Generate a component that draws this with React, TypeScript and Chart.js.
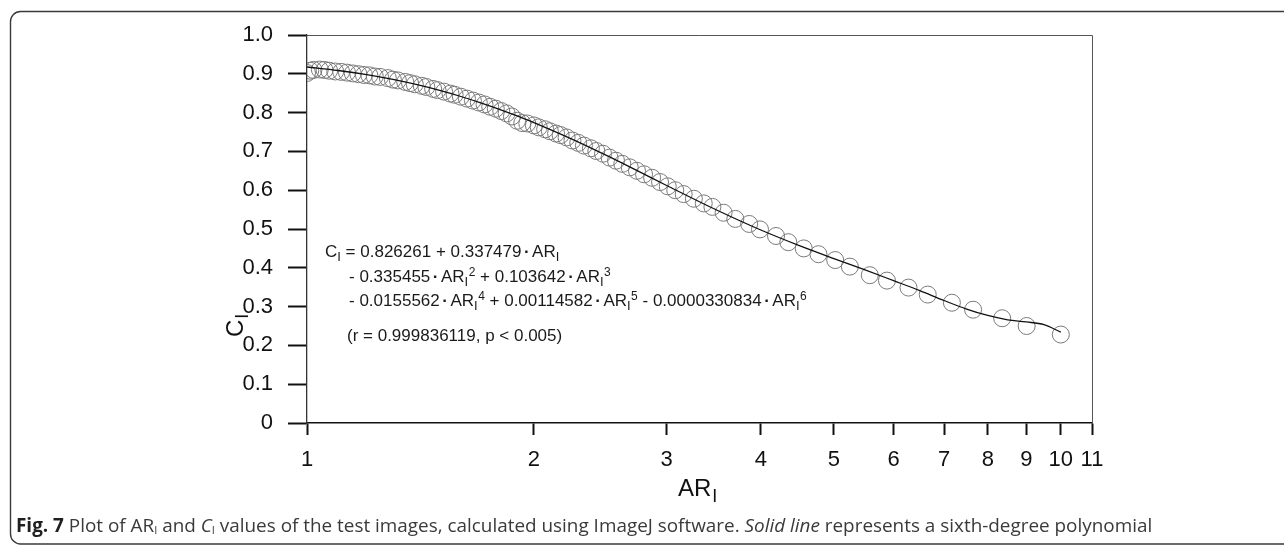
import React, { useEffect, useRef } from 'react';
import { Chart, registerables } from 'chart.js';

Chart.register(...registerables);

// Measured data points (AR_I, C_I)
const arValues = [
  1.0, 1.01, 1.02, 1.04, 1.055, 1.07, 1.09, 1.11, 1.13, 1.15, 1.17, 1.19, 1.21, 1.23, 1.25, 1.28, 1.3, 1.32,
  1.35, 1.37, 1.39, 1.42, 1.44, 1.47, 1.49, 1.52, 1.55, 1.57, 1.6, 1.63, 1.66, 1.69, 1.72, 1.75, 1.78, 1.81,
  1.84, 1.87, 1.9, 1.93, 1.96, 2.0, 2.03, 2.07, 2.1, 2.14, 2.17, 2.21, 2.25, 2.29, 2.33, 2.38, 2.42, 2.47,
  2.52, 2.57, 2.62, 2.68, 2.74, 2.8, 2.87, 2.94, 3.01, 3.08, 3.16, 3.26, 3.36, 3.45, 3.57, 3.7, 3.86, 3.99,
  4.19, 4.35, 4.56, 4.77, 5.02, 5.25, 5.58, 5.88, 6.28, 6.66, 7.17, 7.65, 8.36, 9.01, 10.0,
];
const ciValues = [
  0.902, 0.908, 0.91, 0.911, 0.91, 0.908, 0.906, 0.905, 0.903, 0.901, 0.899, 0.897, 0.896, 0.893, 0.892, 0.889,
  0.885, 0.883, 0.879, 0.876, 0.873, 0.869, 0.866, 0.861, 0.858, 0.854, 0.849, 0.846, 0.841, 0.836, 0.831, 0.826,
  0.821, 0.815, 0.81, 0.804, 0.798, 0.79, 0.779, 0.773, 0.772, 0.767, 0.762, 0.757, 0.752, 0.746, 0.742, 0.736,
  0.728, 0.722, 0.715, 0.708, 0.701, 0.694, 0.684, 0.676, 0.668, 0.659, 0.65, 0.641, 0.632, 0.621, 0.61, 0.6,
  0.59, 0.578, 0.566, 0.557, 0.542, 0.526, 0.513, 0.499, 0.482, 0.466, 0.45, 0.435, 0.42, 0.403, 0.381, 0.367,
  0.349, 0.331, 0.31, 0.292, 0.27, 0.25, 0.228,
];

// Fitted sixth-degree polynomial curve
const fitAR = [1, 1.1, 1.2, 1.3, 1.4, 1.5, 1.6, 1.7, 1.8, 1.9, 2, 2.25, 2.5, 2.75, 3, 3.5, 4, 4.5, 5, 5.5, 6, 6.5, 7, 7.5, 8, 8.5, 9, 9.5, 10];
const fitCI = [
  0.9175, 0.9085, 0.8978, 0.8854, 0.8718, 0.8571, 0.8415, 0.8252, 0.8085, 0.7914, 0.7742, 0.731, 0.6889, 0.6491,
  0.6122, 0.5483, 0.4974, 0.4571, 0.4237, 0.3946, 0.3669, 0.3412, 0.3157, 0.2936, 0.2771, 0.266, 0.2605, 0.2534, 0.2342,
];

const xTicks = [1, 2, 3, 4, 5, 6, 7, 8, 9, 10, 11];
const yTicks = [0, 0.1, 0.2, 0.3, 0.4, 0.5, 0.6, 0.7, 0.8, 0.9, 1.0];

type Seg = { t: string; s?: 'sub' | 'sup' | 'dot' };
const equationLines: Seg[][] = [
  [{ t: 'C' }, { t: 'I', s: 'sub' }, { t: ' = 0.826261 + 0.337479' }, { t: '·', s: 'dot' }, { t: 'AR' }, { t: 'I', s: 'sub' }],
  [
    { t: '- 0.335455' }, { t: '·', s: 'dot' }, { t: 'AR' }, { t: 'I', s: 'sub' }, { t: '2', s: 'sup' },
    { t: ' + 0.103642' }, { t: '·', s: 'dot' }, { t: 'AR' }, { t: 'I', s: 'sub' }, { t: '3', s: 'sup' },
  ],
  [
    { t: '- 0.0155562' }, { t: '·', s: 'dot' }, { t: 'AR' }, { t: 'I', s: 'sub' }, { t: '4', s: 'sup' },
    { t: ' + 0.00114582' }, { t: '·', s: 'dot' }, { t: 'AR' }, { t: 'I', s: 'sub' }, { t: '5', s: 'sup' },
    { t: ' - 0.0000330834' }, { t: '·', s: 'dot' }, { t: 'AR' }, { t: 'I', s: 'sub' }, { t: '6', s: 'sup' },
  ],
  [{ t: '(r = 0.999836119, p < 0.005)' }],
];

const FONT = '"Liberation Sans", Arial, sans-serif';

function drawRich(ctx: CanvasRenderingContext2D, x: number, y: number, segs: Seg[], size: number) {
  let cx = x;
  for (const seg of segs) {
    if (seg.s === 'sub') {
      ctx.font = `${Math.round(size * 0.78)}px ${FONT}`;
      ctx.fillText(seg.t, cx, y + size * 0.26);
      cx += ctx.measureText(seg.t).width;
      continue;
    }
    if (seg.s === 'sup') {
      ctx.font = `${Math.round(size * 0.72)}px ${FONT}`;
      ctx.fillText(seg.t, cx + 0.5, y - size * 0.36);
      cx += ctx.measureText(seg.t).width + 0.5;
      continue;
    }
    if (seg.s === 'dot') {
      ctx.font = `bold ${size}px ${FONT}`;
      cx += 2.5;
      ctx.fillText(seg.t, cx, y);
      cx += ctx.measureText(seg.t).width + 2.5;
      continue;
    }
    ctx.font = `${size}px ${FONT}`;
    ctx.fillText(seg.t, cx, y);
    cx += ctx.measureText(seg.t).width;
  }
}

const decorPlugin = {
  id: 'decor',
  beforeDraw(chart: any) {
    const ctx = chart.ctx as CanvasRenderingContext2D;
    ctx.save();
    ctx.strokeStyle = '#3a3a3a';
    ctx.lineWidth = 1.4;
    const l = 10.5, t = 11.5, r = 1320, b = 544, rad = 10;
    ctx.beginPath();
    ctx.moveTo(r, t);
    ctx.lineTo(l + rad, t);
    ctx.arcTo(l, t, l, t + rad, rad);
    ctx.lineTo(l, b - rad);
    ctx.arcTo(l, b, l + rad, b, rad);
    ctx.lineTo(r, b);
    ctx.stroke();
    ctx.restore();
  },
  afterDraw(chart: any) {
    const ctx = chart.ctx as CanvasRenderingContext2D;
    const a = chart.chartArea;
    ctx.save();
    ctx.strokeStyle = '#555';
    ctx.lineWidth = 1;
    ctx.beginPath();
    ctx.moveTo(a.left, a.top + 0.5);
    ctx.lineTo(a.right + 0.5, a.top + 0.5);
    ctx.lineTo(a.right + 0.5, a.bottom);
    ctx.stroke();

    ctx.fillStyle = '#1a1a1a';
    ctx.textBaseline = 'alphabetic';
    ctx.textAlign = 'left';
    drawRich(ctx, 325, 257, equationLines[0], 17);
    drawRich(ctx, 349, 282, equationLines[1], 17);
    drawRich(ctx, 349, 306, equationLines[2], 17);
    drawRich(ctx, 347, 341, equationLines[3], 17);

    ctx.fillStyle = '#111';
    ctx.font = `24px ${FONT}`;
    ctx.fillText('AR', 678, 496);
    const w = ctx.measureText('AR').width;
    ctx.font = `18px ${FONT}`;
    ctx.fillText('I', 678 + w + 1, 502);

    ctx.translate(243, 337);
    ctx.rotate(-Math.PI / 2);
    ctx.font = `24px ${FONT}`;
    ctx.fillText('C', 0, 0);
    const wc = ctx.measureText('C').width;
    ctx.font = `18px ${FONT}`;
    ctx.fillText('I', wc + 1, 5);
    ctx.restore();
  },
};

export default function App() {
  const ref = useRef<HTMLCanvasElement | null>(null);

  useEffect(() => {
    if (!ref.current) return;
    const points = arValues.map((x, i) => ({ x, y: ciValues[i] }));
    const fit = fitAR.map((x, i) => ({ x, y: fitCI[i] }));
    const chart = new Chart(ref.current, {
      type: 'scatter',
      data: {
        datasets: [
          {
            label: 'Fit',
            data: fit,
            showLine: true,
            borderColor: '#111',
            borderWidth: 1.3,
            pointRadius: 0,
            cubicInterpolationMode: 'monotone',
            fill: false,
            order: 0,
          } as any,
          {
            label: 'Measured',
            data: points,
            pointRadius: 8.5,
            pointBorderColor: '#7a7a7a',
            pointBackgroundColor: 'rgba(255,255,255,0)',
            pointBorderWidth: 1,
            showLine: false,
            order: 1,
          } as any,
        ],
      },
      options: {
        animation: false,
        responsive: false,
        maintainAspectRatio: false,
        layout: { padding: { left: 0, right: 192, top: 35, bottom: 63 } },
        plugins: { legend: { display: false }, tooltip: { enabled: false } },
        scales: {
          x: {
            type: 'logarithmic',
            min: 1,
            max: 11,
            afterBuildTicks: (scale: any) => {
              scale.ticks = xTicks.map((v) => ({ value: v }));
            },
            afterFit: (scale: any) => {
              scale.height = 60;
            },
            ticks: {
              autoSkip: false,
              maxRotation: 0,
              minRotation: 0,
              padding: 12,
              color: '#111',
              font: { family: FONT, size: 22 },
              callback: (v: any) => String(v),
            },
            grid: {
              display: true,
              drawOnChartArea: false,
              drawTicks: true,
              tickLength: 12,
              tickWidth: 2,
              tickColor: '#111',
            },
            border: { display: true, color: '#111', width: 1.5 },
          },
          y: {
            type: 'linear',
            min: 0,
            max: 1,
            afterBuildTicks: (scale: any) => {
              scale.ticks = yTicks.map((v) => ({ value: v }));
            },
            afterFit: (scale: any) => {
              scale.width = 307;
            },
            ticks: {
              padding: 15,
              color: '#111',
              font: { family: FONT, size: 22 },
              callback: (v: any) => (Number(v) === 0 ? '0' : Number(v).toFixed(1)),
            },
            grid: {
              display: true,
              drawOnChartArea: false,
              drawTicks: true,
              tickLength: 19,
              tickWidth: 2,
              tickColor: '#111',
            },
            border: { display: true, color: '#333', width: 1.3 },
          },
        },
      },
      plugins: [decorPlugin],
    });
    return () => chart.destroy();
  }, []);

  return (
    <div style={{ position: 'absolute', left: 0, top: 0, width: 1284, height: 546, background: '#fff', overflow: 'hidden' }}>
      <canvas ref={ref} width={1284} height={546} style={{ position: 'absolute', left: 0, top: 0, width: 1284, height: 546 }} />
      <div
        style={{
          position: 'absolute',
          left: 16,
          top: 514,
          fontFamily: '"Open Sans", "Noto Sans", sans-serif',
          fontSize: 18.9,
          lineHeight: '22px',
          color: '#3a3a3a',
          whiteSpace: 'nowrap',
        }}
      >
        <b style={{ color: '#1f1f1f' }}>Fig. 7</b> Plot of AR<sub style={{ fontSize: 11, verticalAlign: '-2px' }}>I</sub> and{' '}
        <i>C</i>
        <sub style={{ fontSize: 11, verticalAlign: '-2px' }}>I</sub> values of the test images, calculated using ImageJ software.{' '}
        <i>Solid line</i> represents a sixth-degree polynomial
      </div>
    </div>
  );
}
